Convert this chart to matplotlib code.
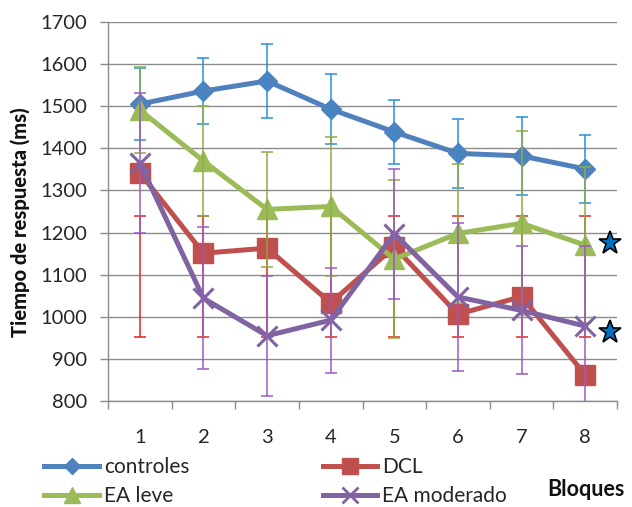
import matplotlib
matplotlib.use("Agg")
import matplotlib.pyplot as plt
from matplotlib.lines import Line2D
import numpy as np

plt.rcParams['font.family'] = ['Lato', 'DejaVu Sans']

# Blocks on the x axis
bloques = [1, 2, 3, 4, 5, 6, 7, 8]
tick_labels = ["1", "2", "3", "4", "5", "6", "7", "8"]

# Mean response times (ms) per group
controles = [1505, 1536, 1560, 1493, 1439, 1388, 1382, 1351]
controles_err = [85, 79, 87, 83, 76, 82, 93, 80]

dcl = [1342, 1151, 1163, 1033, 1166, 1006, 1048, 862]
dcl_low = [953, 953, 953, 953, 953, 953, 953, 953]
dcl_high = [1239, 1239, 1239, 1239, 1239, 1239, 1239, 1239]

ea_leve = [1491, 1370, 1255, 1262, 1137, 1198, 1222, 1170]
ea_leve_err = [103, 130, 137, 166, 188, 165, 218, 185]

ea_moderado = [1365, 1044, 955, 992, 1197, 1047, 1015, 978]
ea_moderado_err = [166, 169, 142, 125, 155, 176, 152, 190]

# Significance stars beside block 8
star_x = [8.39, 8.39]
star_y = [1175, 963]

fig = plt.figure(figsize=(6.32, 5.07), dpi=100)
ax = fig.add_axes([108 / 632, 1 - 401 / 507, (617 - 108) / 632, (401 - 22) / 507])

grid_col = "#8c8c8c"
lw = 3.6
cap = 4.3
ebw = 1.1

# controles
ax.plot(bloques, controles, color="#4F81BD", lw=lw, marker="D", ms=10.5,
        mec="#4F81BD", zorder=3, solid_joinstyle="round")
ax.errorbar(bloques, controles, yerr=controles_err, fmt="none",
            ecolor="#2A8FDA", elinewidth=ebw, capsize=cap, capthick=ebw, zorder=3.1)

# DCL
ax.plot(bloques, dcl, color="#C0504D", lw=lw, marker="s", ms=14,
        mec="#C0504D", zorder=4, solid_joinstyle="round")
ax.vlines(bloques, dcl_low, dcl_high, colors="#E3241F", lw=ebw, zorder=4.1)
ax.plot(bloques, dcl_low, ls="none", marker="_", ms=2 * cap, mew=ebw, color="#E3241F", zorder=4.1)
ax.plot(bloques, dcl_high, ls="none", marker="_", ms=2 * cap, mew=ebw, color="#E3241F", zorder=4.1)

# EA leve
ax.plot(bloques, ea_leve, color="#9BBB59", lw=lw, marker="^", ms=15,
        mec="#9BBB59", zorder=5, solid_joinstyle="round")
ax.errorbar(bloques, ea_leve, yerr=ea_leve_err, fmt="none",
            ecolor="#8BAE45", elinewidth=ebw, capsize=cap, capthick=ebw, zorder=5.1)

# EA moderado
ax.plot(bloques, ea_moderado, color="#8064A2", lw=lw, marker="x", ms=15, mew=2.2,
        mec="#8064A2", zorder=6, solid_joinstyle="round")
ax.errorbar(bloques, ea_moderado, yerr=ea_moderado_err, fmt="none",
            ecolor="#9A5BC8", elinewidth=ebw, capsize=cap, capthick=ebw, zorder=6.1)

# stars
ax.plot(star_x, star_y, ls="none", marker="*", ms=17, mfc="#0070C0", mec="black",
        mew=1.2, clip_on=False, zorder=7)

ax.set_xlim(0.5, 8.5)
ax.set_ylim(800, 1700)
ax.set_yticks(np.arange(800, 1701, 100))
ax.set_xticks(bloques)
ax.set_xticklabels(tick_labels)
ax.set_xticks(np.arange(0.5, 8.6, 1), minor=True)

ax.tick_params(axis="x", which="major", length=0, pad=20, labelsize=14.5, colors="#262626")
ax.tick_params(axis="x", which="minor", length=5.5, width=1, color=grid_col, direction="out")
ax.tick_params(axis="y", length=5.8, width=1, color=grid_col, pad=9, labelsize=14.5,
               labelcolor="#262626")

ax.yaxis.grid(True, color=grid_col, lw=1)
ax.set_axisbelow(True)
for s in ["top", "right"]:
    ax.spines[s].set_visible(False)
for s in ["left", "bottom"]:
    ax.spines[s].set_color(grid_col)
    ax.spines[s].set_linewidth(1)

fig.text(20 / 632, 1 - 222 / 507, "Tiempo de respuesta (ms)", rotation=90,
         ha="center", va="center", fontsize=14.5, fontweight="black", color="#111111")
fig.text(586 / 632, 1 - 490 / 507, "Bloques", ha="center", va="center",
         fontsize=15.5, fontweight="bold", color="#111111")

handles = [
    Line2D([], [], color="#4F81BD", lw=lw, marker="D", ms=8, mec="#4F81BD"),
    Line2D([], [], color="#9BBB59", lw=lw, marker="^", ms=12, mec="#9BBB59"),
    Line2D([], [], color="#C0504D", lw=lw, marker="s", ms=12, mec="#C0504D"),
    Line2D([], [], color="#8064A2", lw=lw, marker="x", ms=12, mew=2, mec="#8064A2"),
]
labels = ["controles", "EA leve", "DCL", "EA moderado"]
fig.legend(handles, labels, ncol=2, loc="upper left",
           bbox_to_anchor=(34 / 632, 1 - 447 / 507), frameon=False,
           fontsize=15, handlelength=2.6, handletextpad=0.25,
           columnspacing=6.4, labelspacing=0.42, borderpad=0,
           labelcolor="#262626")

fig.savefig("out.png", dpi=100)
